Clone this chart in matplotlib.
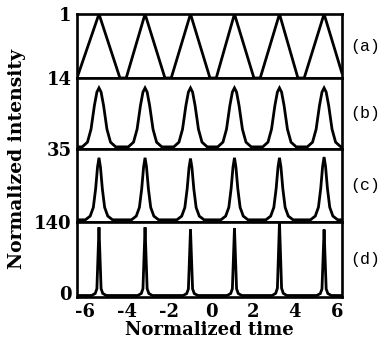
import numpy as np
import matplotlib
matplotlib.use("Agg")
import matplotlib.pyplot as plt

# ---- data ----
peak_centers = [-5.35, -3.15, -0.98, 1.12, 3.27, 5.40]

# panel (a): triangular wave vertices (relative to panel height)
a_x = [-6.40, -5.35, -4.35, -4.05, -3.15, -2.20, -1.90, -0.98, -0.05, 0.25,
       1.12, 2.05, 2.35, 3.27, 4.15, 4.45, 5.40, 6.25]
a_y = [0.00, 1.00, 0.00, 0.00, 1.00, 0.00, 0.00, 1.00, 0.00, 0.00,
       1.00, 0.00, 0.00, 1.00, 0.00, 0.00, 1.00, 0.08]

# pulse profiles (offset from centre, relative value)
b_off = [-0.80, -0.55, -0.38, -0.22, -0.10, 0.00, 0.10, 0.22, 0.38, 0.55, 0.80]
b_val = [0.00, 0.08, 0.30, 0.70, 0.93, 1.00, 0.93, 0.70, 0.30, 0.08, 0.00]
b_base, b_peak = [0.03], [0.86, 0.86, 0.86, 0.86, 0.86, 0.86]

c_off = [-0.65, -0.42, -0.27, -0.16, -0.07, 0.00, 0.07, 0.16, 0.27, 0.42, 0.65]
c_val = [0.00, 0.06, 0.20, 0.50, 0.85, 1.00, 0.85, 0.50, 0.20, 0.06, 0.00]
c_base, c_peak = [0.03], [0.88, 0.88, 0.87, 0.88, 0.88, 0.89]

d_off = [-0.35, -0.18, -0.10, -0.05, 0.00, 0.05, 0.10, 0.18, 0.35]
d_val = [0.00, 0.03, 0.10, 0.55, 1.00, 0.55, 0.10, 0.03, 0.00]
d_base, d_peak = [0.02], [0.93, 0.93, 0.90, 0.92, 1.00, 0.90]

panel_labels = ["(a)", "(b)", "(c)", "(d)"]
top_labels = ["1", "14", "35", "140"]
bottom_label = "0"
x_ticks = [-6, -4, -2, 0, 2, 4, 6]

x_min, x_max = -6.4, 6.25


def pulse_train(off, val, base, peaks):
    xs, ys = [x_min], [base[0]]
    for c, h in zip(peak_centers, peaks):
        for o, v in zip(off, val):
            xs.append(c + o)
            ys.append(base[0] + (h - base[0]) * v)
    xs.append(x_max)
    ys.append(base[0])
    return xs, ys


plt.rcParams['font.family'] = ['DejaVu Serif']
fig = plt.figure(figsize=(3.85, 3.45), dpi=100)
gs = fig.add_gridspec(4, 1, height_ratios=[64, 71, 73, 75], hspace=0,
                      left=0.2, right=0.888, top=0.9594, bottom=0.1391)
axes = [fig.add_subplot(gs[i]) for i in range(4)]

curves = [
    (a_x, a_y),
    pulse_train(b_off, b_val, b_base, b_peak),
    pulse_train(c_off, c_val, c_base, c_peak),
    pulse_train(d_off, d_val, d_base, d_peak),
]

for i, ax in enumerate(axes):
    xs, ys = curves[i]
    ax.plot(xs, ys, color='black', lw=2.0, solid_joinstyle='miter')
    ax.set_xlim(x_min, x_max)
    ax.set_ylim(0, 1)
    for s in ax.spines.values():
        s.set_linewidth(1.9)
    ax.tick_params(length=0, labelsize=13, pad=4)
    if i < 3:
        ax.set_yticks([1.0])
        ax.set_yticklabels([top_labels[i]], fontweight='bold')
        ax.set_xticks([])
    else:
        ax.set_yticks([0.06, 1.0])
        ax.set_yticklabels([bottom_label, top_labels[i]], fontweight='bold')
        ax.set_xticks(x_ticks)
        ax.set_xticklabels([str(t) if t >= 0 else '-' + str(-t) for t in x_ticks],
                           fontweight='bold')
        ax.set_xlabel("Normalized time", fontsize=13, fontweight='bold', labelpad=0)
    ax.text(1.03, 0.5, panel_labels[i], transform=ax.transAxes, ha='left',
            va='center', fontsize=12, family='Liberation Mono')

fig.text(0.045, 0.54, "Normalized intensity", rotation=90, ha='center',
         va='center', fontsize=13.5, fontweight='bold')

fig.savefig("out.png", dpi=100)
